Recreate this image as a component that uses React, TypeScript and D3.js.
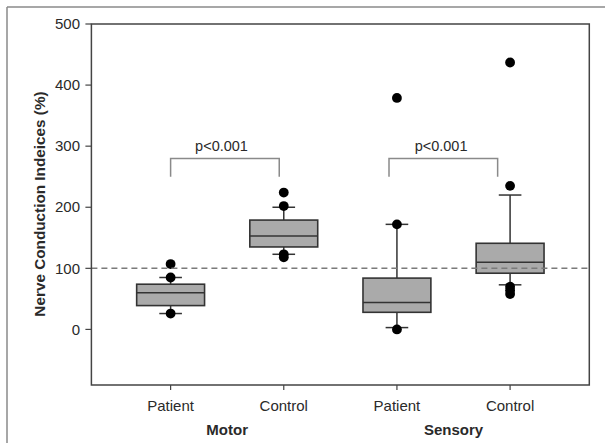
import React from "react";
import * as d3 from "d3";

const categories = ["Patient", "Control", "Patient", "Control"];
const positions = [1, 2, 3, 4];
const groups = ["Motor", "Sensory"];
const groupCenters = [1.5, 3.5];
const whiskerLow = [26, 123, 3, 73];
const q1 = [39, 135, 28, 92];
const median = [60, 153, 44, 110];
const q3 = [74, 179, 84, 141];
const whiskerHigh = [85, 200, 172, 220];
const outliers = [
  [107, 85, 26],
  [224, 202, 123, 118],
  [379, 172, 0],
  [437, 235, 70, 64, 58],
];
const yTicks = [0, 100, 200, 300, 400, 500];
const referenceValue = 100;
const bracketStart = [1.0, 2.93];
const bracketEnd = [1.96, 3.89];
const bracketTop = 280;
const bracketBottom = 250;
const pLabels = ["p<0.001", "p<0.001"];
const pLabelX = [1.45, 3.39];

const W = 605;
const H = 443;
const left = 91.4;
const right = 589.3;
const top = 24;
const bottom = 385;

export default function App() {
  const x = d3.scaleLinear().domain([0.3, 4.7]).range([left, right]);
  const y = d3.scaleLinear().domain([-91, 500]).range([bottom, top]);
  const unit = x(1) - x(0);
  const boxW = 0.6 * unit;
  const capW = 0.2 * unit;
  const font = "'Liberation Sans', Arial, sans-serif";
  const txt = "#2a2a2a";
  const dark = "#333";

  return (
    <svg
      width={W}
      height={H}
      style={{ position: "absolute", left: 0, top: 0, background: "#fff" }}
      fontFamily={font}
    >
      <rect x={0} y={0} width={W} height={H} fill="#fff" />
      <line x1={7} y1={7} x2={W} y2={7} stroke="#8a8a8a" strokeWidth={1.5} />
      <line x1={7} y1={7} x2={7} y2={H} stroke="#8a8a8a" strokeWidth={1.5} />

      {positions.map((p, i) => {
        const cx = x(p);
        return (
          <g key={i}>
            <line x1={cx} x2={cx} y1={y(q3[i])} y2={y(whiskerHigh[i])} stroke={dark} strokeWidth={1.5} />
            <line x1={cx} x2={cx} y1={y(q1[i])} y2={y(whiskerLow[i])} stroke={dark} strokeWidth={1.5} />
            <line x1={cx - capW / 2} x2={cx + capW / 2} y1={y(whiskerHigh[i])} y2={y(whiskerHigh[i])} stroke={dark} strokeWidth={1.5} />
            <line x1={cx - capW / 2} x2={cx + capW / 2} y1={y(whiskerLow[i])} y2={y(whiskerLow[i])} stroke={dark} strokeWidth={1.5} />
            <rect
              x={cx - boxW / 2}
              y={y(q3[i])}
              width={boxW}
              height={y(q1[i]) - y(q3[i])}
              fill="#aaaaaa"
              stroke={dark}
              strokeWidth={1.6}
            />
            <line x1={cx - boxW / 2} x2={cx + boxW / 2} y1={y(median[i])} y2={y(median[i])} stroke={dark} strokeWidth={1.6} />
            {outliers[i].map((v, j) => (
              <circle key={j} cx={cx} cy={y(v)} r={4.9} fill="#000" />
            ))}
          </g>
        );
      })}

      <line
        x1={left}
        x2={right}
        y1={y(referenceValue)}
        y2={y(referenceValue)}
        stroke="#7a7a7a"
        strokeWidth={1.5}
        strokeDasharray="6,4"
      />

      {bracketStart.map((b, i) => (
        <g key={i}>
          <path
            d={`M${x(b)},${y(bracketBottom)}V${y(bracketTop)}H${x(bracketEnd[i])}V${y(bracketBottom)}`}
            fill="none"
            stroke="#8a8a8a"
            strokeWidth={1.5}
          />
          <text x={x(pLabelX[i])} y={y(bracketTop) - 7.5} textAnchor="middle" fontSize={14.5} fill={txt}>
            {pLabels[i]}
          </text>
        </g>
      ))}

      <path d={`M${left},${top}H${right}V${bottom}H${left}Z`} fill="none" stroke="#444" strokeWidth={1.5} />

      {yTicks.map((t) => (
        <g key={t}>
          <line x1={left - 6} x2={left} y1={y(t)} y2={y(t)} stroke="#444" strokeWidth={1.2} />
          <text x={80} y={y(t)} dy="0.35em" textAnchor="end" fontSize={15} fill={txt}>
            {t}
          </text>
        </g>
      ))}

      {positions.map((p, i) => (
        <g key={i}>
          <line x1={x(p)} x2={x(p)} y1={bottom} y2={bottom + 5} stroke="#444" strokeWidth={1.2} />
          <text x={x(p)} y={410.5} textAnchor="middle" fontSize={15} fill={txt}>
            {categories[i]}
          </text>
        </g>
      ))}
      {groups.map((g, i) => (
        <text key={g} x={x(groupCenters[i])} y={435} textAnchor="middle" fontSize={15} fontWeight="bold" fill={txt}>
          {g}
        </text>
      ))}

      <text
        transform={`translate(44.5,204) rotate(-90)`}
        textAnchor="middle"
        fontSize={15.3}
        fontWeight="bold"
        fill={txt}
      >
        Nerve Conduction Indeices (%)
      </text>
    </svg>
  );
}
